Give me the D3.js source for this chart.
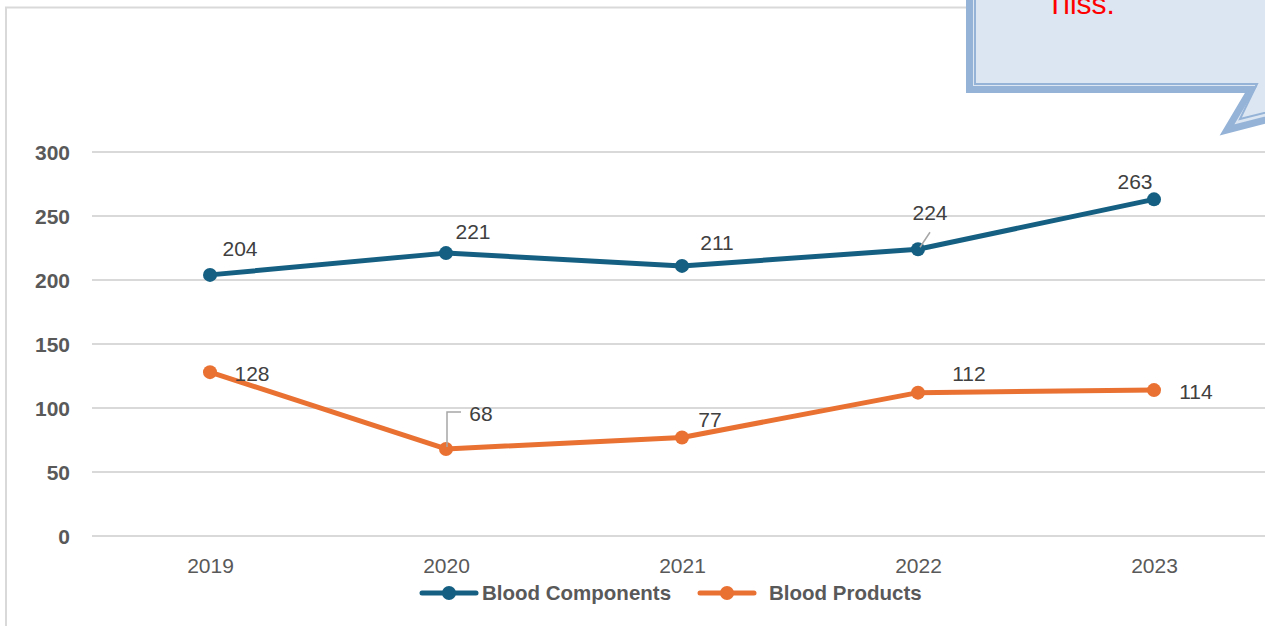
<!DOCTYPE html>
<html><head><meta charset="utf-8">
<script src="https://cdn.jsdelivr.net/npm/d3@7"></script>
<style>html,body{margin:0;padding:0;background:#fff;overflow:hidden}svg{display:block}</style>
</head><body>
<svg id="c" width="1265" height="626"></svg>
<script>
const years = ["2019","2020","2021","2022","2023"];
const bloodComponents = [204, 221, 211, 224, 263];
const bloodProducts = [128, 68, 77, 112, 114];
const yTicks = [0, 50, 100, 150, 200, 250, 300];
const seriesNames = ["Blood Components", "Blood Products"];
const calloutText = "Tiiss.";

const svg = d3.select("#c");
const W = 1265, H = 626;
const colors = ["#156082", "#E97132"];

// chart frame
svg.append("path").attr("d", `M6,${H+5} L6,7.5 L${W+5},7.5`)
  .attr("fill","none").attr("stroke","#d9d9d9").attr("stroke-width",2);

const x = d3.scalePoint().domain(years).range([210, 1154]);
const y = d3.scaleLinear().domain([0, 300]).range([536, 152]);

// gridlines
svg.append("g").selectAll("line").data(yTicks).join("line")
  .attr("x1", 92).attr("x2", W).attr("y1", d => y(d)).attr("y2", d => y(d))
  .attr("stroke", "#d9d9d9").attr("stroke-width", 2);

// y axis labels
const yAxis = d3.axisLeft(y).tickValues(yTicks).tickSize(0).tickPadding(0);
const gy = svg.append("g").attr("transform","translate(70,0)").call(yAxis);
gy.select(".domain").remove();
gy.selectAll("text").attr("font-family","'Liberation Sans', Arial, sans-serif")
  .attr("font-size", 21).attr("font-weight","bold").attr("fill","#595959").attr("dy","0.36em");

// x axis labels
const xAxis = d3.axisBottom(x).tickSize(0).tickPadding(0);
const gx = svg.append("g").attr("transform","translate(0,558)").call(xAxis);
gx.select(".domain").remove();
gx.selectAll("text").attr("font-family","'Liberation Sans', Arial, sans-serif")
  .attr("font-size", 21).attr("fill","#595959").attr("dy","0.71em");

const series = [bloodComponents, bloodProducts];
const line = d3.line().x((d,i) => x(years[i])).y(d => y(d));

series.forEach((s, k) => {
  svg.append("path").datum(s).attr("d", line)
    .attr("fill","none").attr("stroke", colors[k]).attr("stroke-width", 5)
    .attr("stroke-linejoin","round");
  svg.append("g").selectAll("circle").data(s).join("circle")
    .attr("cx", (d,i) => x(years[i])).attr("cy", d => y(d)).attr("r", 7)
    .attr("fill", colors[k]);
});

// data labels offsets (label center relative to point)
const offsets = [
  [[30,-26],[27,-22],[35,-23],[12,-37],[-19,-18]],
  [[42,1],[35,-36],[28,-18],[51,-19],[42,1]]
];
// leader lines
const leaders = [
  {s:0, i:3, pts:[[2,-2],[12,-17]]},
  {s:1, i:1, pts:[[1,-2],[1,-37],[15,-37]]}
];
leaders.forEach(l => {
  const px = x(years[l.i]), py = y(series[l.s][l.i]);
  svg.append("path").attr("d", d3.line()(l.pts.map(p => [px+p[0], py+p[1]])))
    .attr("fill","none").attr("stroke","#a6a6a6").attr("stroke-width",1.5);
});
series.forEach((s, k) => {
  svg.append("g").selectAll("text").data(s).join("text")
    .attr("x", (d,i) => x(years[i]) + offsets[k][i][0])
    .attr("y", (d,i) => y(d) + offsets[k][i][1])
    .attr("text-anchor","middle").attr("dy","0.36em")
    .attr("font-family","'Liberation Sans', Arial, sans-serif")
    .attr("font-size", 21).attr("fill","#404040")
    .text(d => d);
});

// legend
const legendItems = [{lx:422, tx:482}, {lx:700, tx:769}];
legendItems.forEach((it, k) => {
  const g = svg.append("g");
  g.append("line").attr("x1", it.lx).attr("x2", it.lx+54).attr("y1",593).attr("y2",593)
    .attr("stroke", colors[k]).attr("stroke-width",5).attr("stroke-linecap","round");
  g.append("circle").attr("cx", it.lx+27).attr("cy",593).attr("r",7).attr("fill",colors[k]);
  g.append("text").attr("x", it.tx).attr("y", 593).attr("dy","0.36em")
    .attr("font-family","'Liberation Sans', Arial, sans-serif").attr("font-weight","bold")
    .attr("font-size", 20.5).attr("fill","#595959").text(seriesNames[k]);
});

// callout
svg.append("path")
  .attr("d","M1300,-20 L969.5,-20 L969.5,89.5 L1251,89.5 L1227,130 L1300,111 Z")
  .attr("fill","#dce6f2").attr("stroke","#95b3d7").attr("stroke-width",7).attr("stroke-linejoin","miter");
svg.append("path")
  .attr("d","M1300,-20 L975,-20 L975,84 L1257,84 L1240,119 L1300,104")
  .attr("fill","none").attr("stroke","#95b3d7").attr("stroke-width",2);
svg.append("text").attr("x", 1046).attr("y", 14)
  .attr("font-family","'Liberation Sans', Arial, sans-serif")
  .attr("font-size", 30).attr("fill","#ff0000").text(calloutText);
</script>
</body></html>
